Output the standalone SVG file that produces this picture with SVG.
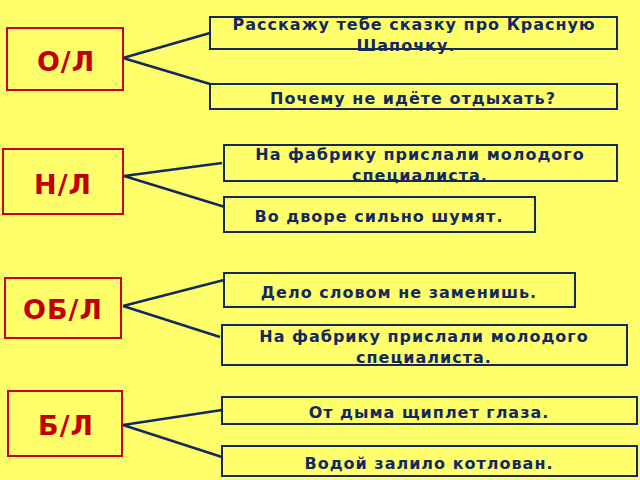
<svg xmlns="http://www.w3.org/2000/svg" width="640" height="480" viewBox="0 0 640 480">
<style>
.k{fill:none;stroke:#CC0000;stroke-width:2}
.kt{font:bold 27px "DejaVu Sans",sans-serif;fill:#C00000;text-anchor:middle;letter-spacing:1px}
.b{fill:none;stroke:#13295E;stroke-width:2}
.t{font:bold 16px "DejaVu Sans",sans-serif;fill:#13295E;text-anchor:middle;letter-spacing:1px}
.c{stroke:#13295E;stroke-width:2.5;fill:none}
</style>
<rect width="640" height="480" fill="#FFFF6B"/>
<g id="connectors">
<path class="c" d="M123,58 L210,33 M123,58 L210,84"/>
<path class="c" d="M124,176 L222,163 M124,176 L225,207"/>
<path class="c" d="M123,306 L224,280 M123,306 L220,337"/>
<path class="c" d="M123,425 L222,410 M123,425 L222,457"/>
</g>
<g id="ol"><rect class="k" x="7" y="28" width="116" height="62"/><text class="kt" x="66" y="71">О/Л</text></g>
<g id="nl"><rect class="k" x="3" y="149" width="120" height="65"/><text class="kt" x="63" y="194">Н/Л</text></g>
<g id="obl"><rect class="k" x="5" y="278" width="116" height="60"/><text class="kt" x="63" y="319">ОБ/Л</text></g>
<g id="bl"><rect class="k" x="8" y="391" width="114" height="65"/><text class="kt" x="66" y="435">Б/Л</text></g>
<g id="n1"><rect class="b" x="210" y="17" width="407" height="32"/><text class="t" x="414" y="30">Расскажу тебе сказку про Красную</text><text class="t" x="406" y="51">Шапочку.</text></g>
<g id="n2"><rect class="b" x="210" y="84" width="407" height="25"/><text class="t" x="413" y="104">Почему не идёте отдыхать?</text></g>
<g id="n3"><rect class="b" x="224" y="145" width="393" height="36"/><text class="t" x="420" y="160">На фабрику прислали молодого</text><text class="t" x="420" y="181">специалиста.</text></g>
<g id="n4"><rect class="b" x="224" y="197" width="311" height="35"/><text class="t" x="379" y="222">Во дворе сильно шумят.</text></g>
<g id="n5"><rect class="b" x="224" y="273" width="351" height="34"/><text class="t" x="399" y="298">Дело словом не заменишь.</text></g>
<g id="n6"><rect class="b" x="222" y="325" width="405" height="40"/><text class="t" x="424" y="342">На фабрику прислали молодого</text><text class="t" x="424" y="363">специалиста.</text></g>
<g id="n7"><rect class="b" x="222" y="397" width="415" height="27"/><text class="t" x="429" y="418">От дыма щиплет глаза.</text></g>
<g id="n8"><rect class="b" x="222" y="446" width="415" height="30"/><text class="t" x="429" y="469">Водой залило котлован.</text></g>
</svg>
